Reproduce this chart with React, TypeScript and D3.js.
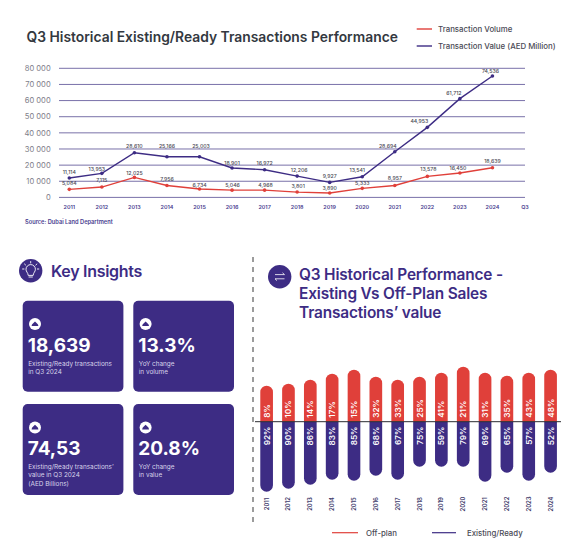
import React from "react";
import * as d3 from "d3";

const years = ["2011","2012","2013","2014","2015","2016","2017","2018","2019","2020","2021","2022","2023","2024"];
const xLabels = [...years, "Q3"];
const yTicks = [0,10000,20000,30000,40000,50000,60000,70000,80000];
const valueSeries = [12000,14900,27700,25200,25200,18200,17150,13200,9300,12800,28300,43400,61200,75200];
const volumeSeries = [5000,6400,12400,7400,5200,4500,4500,3300,2700,5600,7400,13000,15100,18400];
const valueLabels = ["11,114","13,953","28,610","25,166","25,003","18,901","16,972","12,206","9,927","13,541","28,694","44,953","61,712","74,536"];
const volumeLabels = ["5,084","7,115","12,025","7,956","6,734","5,046","4,968","3,801","3,890","5,333","8,957","13,578","16,450","18,639"];
const offPlanPct = [8,10,14,17,15,32,33,25,41,21,31,35,43,48];
const readyPct = [92,90,86,83,85,68,67,75,59,79,69,65,57,52];
const offPlanLen = [36,38,42,48,52,45,42,45,49,55,49,46,49,52];
const readyLen = [70,67,63,58,59,54,58,45,45,45,60,51,59,51];

const valueOffsets = [[0,-6],[-5,-4],[0,-7],[0,-11],[1.5,-11],[0,-5],[0,-7],[2,-6],[0,-6],[-5,-7],[-7,-6],[-8,-6],[-6,-6],[-2,-5]];
const volumeOffsets = [[0,-6],[0,-7],[0,-4.5],[0,-6],[0,-4],[0.5,-5],[1,-5],[1,-6],[0,-5],[0,-5],[0,-7],[1,-7],[-2,-5],[0,-7]];

const cards = [
  { x: 22.7, y: 300.7, big: "18,639", lines: ["Existing/Ready transactions", "in Q3 2024"] },
  { x: 133.3, y: 300.7, big: "13.3%", lines: ["YoY change", "in volume"] },
  { x: 22.7, y: 404, big: "74,53", lines: ["Existing/Ready transactions’", "value in Q3 2024", "(AED Billions)"] },
  { x: 133.3, y: 404, big: "20.8%", lines: ["YoY change", "in value"] },
];

const PURPLE = "#3d2c84";
const RED = "#e0403a";
const FONT = "Inter, 'Noto Sans', sans-serif";

const x = d3.scalePoint<string>().domain(xLabels).range([69.3, 525]);
const y = d3.scaleLinear().domain([0, 80000]).range([197.4, 68.3]);
const lineGen = d3.line<number>().x((_, i) => x(years[i])!).y((d) => y(d));

const bx = d3.scaleBand<string>().domain(years).range([255.7, 561.5]).paddingInner(0.42).paddingOuter(0.21);
const barBase = 421.7;
const lenScale = d3.scaleLinear().domain([0, 100]).range([0, 100]);

function barPath(cx: number, w: number, len: number, dir: number) {
  const r = w / 2;
  const end = barBase + dir * len;
  const sweep = dir < 0 ? 1 : 0;
  return `M${cx - r},${barBase}V${end - dir * r}A${r},${r} 0 0 ${sweep} ${cx + r},${end - dir * r}V${barBase}Z`;
}

function CardIcon({ cx, cy }: { cx: number; cy: number }) {
  return (
    <g>
      <circle cx={cx} cy={cy} r={6} fill="#fff" />
      <path d={`M${cx - 3.4},${cy + 2}Q${cx - 3.4},${cy + 0.4} ${cx - 1.8},${cy - 0.8}L${cx},${cy - 2.6}L${cx + 1.8},${cy - 0.8}Q${cx + 3.4},${cy + 0.4} ${cx + 3.4},${cy + 2}Z`} fill={PURPLE} />
    </g>
  );
}

export default function App() {
  return (
    <svg width={585} height={542} style={{ position: "absolute", left: 0, top: 0, background: "#fff" }} fontFamily={FONT}>
      <text x={26.5} y={41.5} fontSize={13.85} fontWeight={600} fill="#333840">Q3 Historical Existing/Ready Transactions Performance</text>

      <line x1={416.7} x2={432} y1={29} y2={29} stroke={RED} strokeWidth={1.4} />
      <text x={438} y={31.5} fontSize={7.85} fontWeight={500} fill="#4a4a55">Transaction Volume</text>
      <line x1={416.7} x2={432} y1={46} y2={46} stroke={PURPLE} strokeWidth={1.4} />
      <text x={438} y={48.5} fontSize={7.85} fontWeight={500} fill="#4a4a55">Transaction Value (AED Million)</text>

      {yTicks.map((t) => (
        <g key={t}>
          <line x1={59} x2={525} y1={y(t)} y2={y(t)} stroke="#6a619f" strokeWidth={0.9} />
          <text x={50.7} y={y(t) + 2.7} textAnchor="end" fontSize={7.6} fill="#80808a">{d3.format(",")(t).replace(",", " ")}</text>
        </g>
      ))}
      {xLabels.map((l) => (
        <text key={l} x={x(l)} y={209} textAnchor="middle" fontSize={5.4} fontWeight={600} fill="#4a4090">{l}</text>
      ))}
      <text x={25} y={224} fontSize={5.7} fontWeight={600} fill="#4a4090">Source: Dubai Land Department</text>

      <path d={lineGen(volumeSeries)!} fill="none" stroke={RED} strokeWidth={1.4} />
      <path d={lineGen(valueSeries)!} fill="none" stroke={PURPLE} strokeWidth={1.4} />
      {volumeSeries.map((v, i) => <circle key={i} cx={x(years[i])} cy={y(v)} r={1.8} fill={RED} />)}
      {valueSeries.map((v, i) => <circle key={i} cx={x(years[i])} cy={y(v)} r={1.8} fill={PURPLE} />)}
      {valueLabels.map((l, i) => (
        <text key={l} x={x(years[i])! + valueOffsets[i][0]} y={y(valueSeries[i]) + valueOffsets[i][1] + 1.9} textAnchor="middle" fontSize={5.2} fontWeight={500} fill="#4a4a55">{l}</text>
      ))}
      {volumeLabels.map((l, i) => (
        <text key={l} x={x(years[i])! + volumeOffsets[i][0]} y={y(volumeSeries[i]) + volumeOffsets[i][1] + 1.9} textAnchor="middle" fontSize={5.2} fontWeight={500} fill="#4a4a55">{l}</text>
      ))}

      {/* Key insights */}
      <circle cx={30.7} cy={270.7} r={11.7} fill={PURPLE} />
      <g fill="none" stroke="#fff" strokeWidth={0.9} strokeLinecap="round">
        <path d="M28.2,275 C28,272.5 26,271.8 26,269.3 A4.7,4.7 0 0 1 35.4,269.3 C35.4,271.8 33.4,272.5 33.2,275 Z" />
        <path d="M29,277 H32.4" />
        <path d="M30.7,261.5 V263 M24.5,264 L25.6,265 M36.9,264 L35.8,265 M22.6,269 H24 M37.4,269 H38.8" />
      </g>
      <text x={51} y={276.5} fontSize={16} fontWeight={600} fill={PURPLE} letterSpacing={-0.3}>Key Insights</text>

      {cards.map((c) => (
        <g key={c.big}>
          <rect x={c.x} y={c.y} width={100.7} height={91} rx={5} fill={PURPLE} />
          <CardIcon cx={c.x + 12.3} cy={c.y + 23.4} />
          <text x={c.x + 5} y={c.y + 51} fontSize={19} fontWeight={700} fill="#fff">{c.big}</text>
          {c.lines.map((l, i) => (
            <text key={l} x={c.x + 5.5} y={c.y + 65 + i * 8.3} fontSize={6.4} fill="#d8d4ea">{l}</text>
          ))}
        </g>
      ))}

      {/* Divider */}
      <line x1={253} x2={253} y1={257} y2={527} stroke="#222" strokeWidth={0.9} strokeDasharray="5 5" />

      {/* Right panel */}
      <circle cx={279.7} cy={276.7} r={11.7} fill={PURPLE} />
      <g fill="none" stroke="#fff" strokeWidth={0.8}>
        <path d="M275,274.6 H284.5 L282.5,272.8" />
        <path d="M284.5,278.8 H275 L277,280.6" />
      </g>
      <g fontSize={15.4} fontWeight={600} fill={PURPLE} letterSpacing={-0.15}>
        <text x={299} y={280}>Q3 Historical Performance -</text>
        <text x={299} y={299}>Existing Vs Off-Plan Sales</text>
        <text x={299} y={317.7}>Transactions’ value</text>
      </g>

      {years.map((yr, i) => {
        const cx = bx(yr)! + bx.bandwidth() / 2;
        return (
          <g key={yr}>
            <path d={barPath(cx, bx.bandwidth(), lenScale(offPlanLen[i]), -1)} fill={RED} />
            <path d={barPath(cx, bx.bandwidth(), lenScale(readyLen[i]), 1)} fill={PURPLE} />
            <text transform={`translate(${cx + 3},${barBase - 4}) rotate(-90)`} fontSize={8.2} fontWeight={600} fill="#fff">{offPlanPct[i]}%</text>
            <text transform={`translate(${cx + 3},${barBase + 5}) rotate(-90)`} textAnchor="end" fontSize={8.2} fontWeight={600} fill="#fff">{readyPct[i]}%</text>
            <text transform={`translate(${cx + 2},504) rotate(-90)`} textAnchor="middle" fontSize={5.8} fontWeight={600} fill="#3d3a6a">{yr}</text>
          </g>
        );
      })}
      <line x1={255} x2={561} y1={barBase} y2={barBase} stroke="#2a2a30" strokeWidth={1} />

      <line x1={332} x2={358} y1={532.7} y2={532.7} stroke={RED} strokeWidth={1.2} />
      <text x={366} y={535.5} fontSize={7.8} fontWeight={500} fill="#4a4a55">Off-plan</text>
      <line x1={432} x2={456} y1={532.7} y2={532.7} stroke={PURPLE} strokeWidth={1.2} />
      <text x={467} y={535.5} fontSize={7.8} fontWeight={500} fill="#4a4a55">Existing/Ready</text>
    </svg>
  );
}
